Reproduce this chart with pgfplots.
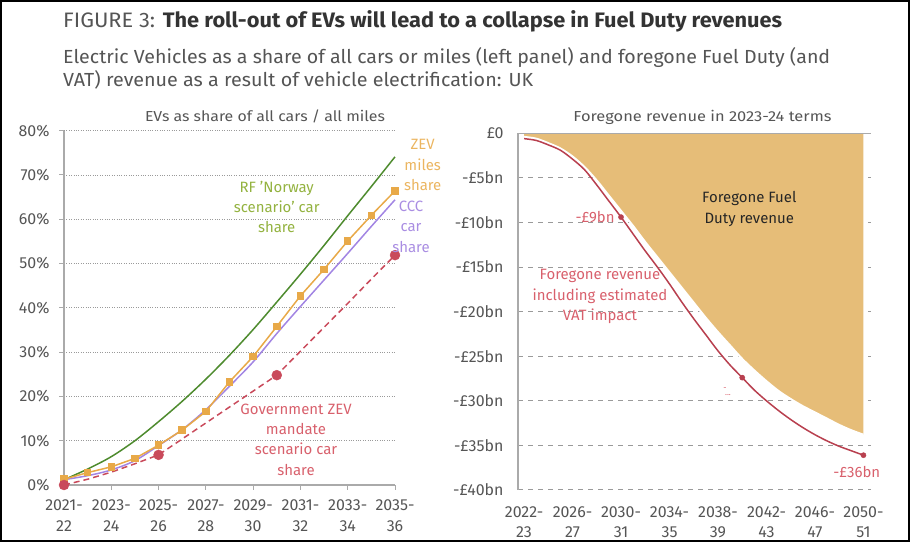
\documentclass[border=0pt]{standalone}
\usepackage{pgfplots}
\pgfplotsset{compat=1.18}
\usepackage{fontspec}
\setmainfont{Fira Sans}
\usepackage{graphicx}
\definecolor{gline}{HTML}{4E8B2E}
\definecolor{gtext}{HTML}{93B23F}
\definecolor{oline}{HTML}{E8A948}
\definecolor{otext}{HTML}{EBB560}
\definecolor{pline}{HTML}{A285E3}
\definecolor{ptext}{HTML}{A98DE2}
\definecolor{rline}{HTML}{C94A5B}
\definecolor{rtext}{HTML}{D8606C}
\definecolor{rdark}{HTML}{B8404F}
\definecolor{fillc}{HTML}{E6BD78}
\definecolor{tickc}{HTML}{555555}
\definecolor{axc}{HTML}{AAAAAA}
\definecolor{gridc}{HTML}{9A9A9A}
\begin{document}
\begin{tikzpicture}[x=1bp,y=1bp]
\path[use as bounding box] (0,0) rectangle (910,542);
\draw[black, line width=2bp] (1,1) rectangle (909,541);
% titles
\node[anchor=base west, inner sep=0] at (63,514.5) {\resizebox{719bp}{\height}{\fontsize{21}{24}\selectfont\color{tickc}FIGURE 3: \textbf{\color{black!80}The roll-out of EVs will lead to a collapse in Fuel Duty revenues}}};
\node[anchor=base west, inner sep=0] at (63,478.5) {\resizebox{767bp}{\height}{\fontsize{19}{22}\selectfont\color{tickc}Electric Vehicles as a share of all cars or miles (left panel) and foregone Fuel Duty (and}};
\node[anchor=base west, inner sep=0] at (63,455.5) {\resizebox{470bp}{\height}{\fontsize{19}{22}\selectfont\color{tickc}VAT) revenue as a result of vehicle electrification: UK}};
\node[anchor=base, inner sep=0] at (265,420) {\resizebox{240bp}{\height}{\fontsize{14.5}{17}\selectfont\color{tickc}EVs as share of all cars / all miles}};
\node[anchor=base, inner sep=0] at (702.5,420) {\resizebox{258bp}{\height}{\fontsize{14.5}{17}\selectfont\color{tickc}Foregone revenue in 2023-24 terms}};

% left panel
\begin{axis}[at={(64bp,57bp)}, anchor=south west, scale only axis, width=331bp, height=354.3bp,
  xmin=0, xmax=14, ymin=0, ymax=80, clip=false,
  axis x line*=bottom, axis y line*=left, axis line style={axc, line width=1.2bp},
  xtick={0,2,...,14},
  xticklabels={{2021-\\22},{2023-\\24},{2025-\\26},{2027-\\28},{2029-\\30},{2031-\\32},{2033-\\34},{2035-\\36}},
  ytick={0,10,...,80},
  yticklabels={0\%,10\%,20\%,30\%,40\%,50\%,60\%,70\%,80\%},
  tick style={axc, line width=1bp}, tick align=outside, major tick length=5bp,
  ymajorgrids, grid style={gridc, dotted, line width=0.8bp},
  ticklabel style={font=\fontsize{16}{21}\selectfont, text=tickc},
  xticklabel style={align=center, yshift=-6bp},
  yticklabel style={xshift=-6bp},
]
\addplot[gline, line width=1.5bp, smooth] coordinates {(0,1.2)(1,3.6)(2,6.4)(3,10.0)(4,14.3)(5,18.9)(6,23.9)(7,29.3)(8,35.1)(9,41.3)(10,47.6)(11,54.1)(12,60.8)(13,67.4)(14,74.1)};
\addplot[pline, line width=1.5bp, smooth] coordinates {(0,1.2)(1,2.1)(2,3.4)(3,5.5)(4,8.9)(5,12.5)(6,17.0)(7,22.3)(8,27.8)(9,34.2)(10,40.3)(11,46.3)(12,52.3)(13,58.4)(14,64.4)};
\addplot[oline, line width=1.5bp, mark=square*, mark size=3bp, mark options={fill=oline, draw=oline}] coordinates {(0,1.3)(1,2.8)(2,4.1)(3,6.0)(4,9.0)(5,12.4)(6,16.6)(7,23.3)(8,29.0)(9,35.8)(10,42.7)(11,48.7)(12,55.1)(13,60.9)(14,66.4)};
\addplot[rline, line width=1.5bp, dash pattern=on 6bp off 4bp] coordinates {(0,0)(1,1.3)(2,2.9)(3,4.8)(4,6.8)(5,10.4)(6,14.0)(7,17.6)(8,21.2)(9,24.8)(10,30.2)(11,35.6)(12,41.0)(13,46.5)(14,51.9)};
\addplot[only marks, mark=*, mark size=5bp, mark options={fill=rline, draw=rline}] coordinates {(0,0)(4,6.8)(9,24.8)(14,51.9)};
\end{axis}
\begin{scope}[every node/.style={align=center, inner sep=0, font=\fontsize{15}{20.5}\selectfont}]
\node[text=gtext] at (276.7,335) {RF 'Norway\\scenario' car\\share};
\node[text=otext] at (422.7,376.7) {ZEV\\miles\\share};
\node[text=ptext] at (411,315.5) {CCC\\car\\share};
\node[text=rtext] at (296,102.4) {Government ZEV\\mandate\\scenario car\\share};
\end{scope}

% right panel
\begin{axis}[at={(518bp,52bp)}, anchor=south west, scale only axis, width=352.7bp, height=356.7bp,
  xmin=2021.5, xmax=2050.6, ymin=-40, ymax=0, clip=false,
  axis x line*=bottom, axis y line*=left,
  x axis line style={draw=none}, y axis line style={axc, line width=1.2bp},
  xtick={2022,2026,...,2050},
  xticklabels={{2022-\\23},{2026-\\27},{2030-\\31},{2034-\\35},{2038-\\39},{2042-\\43},{2046-\\47},{2050-\\51}},
  ytick={-40,-35,...,0},
  yticklabels={-£40bn,-£35bn,-£30bn,-£25bn,-£20bn,-£15bn,-£10bn,-£5bn,£0},
  major tick length=0pt, tick style={draw=none},
  ymajorgrids, grid style={gridc, dash pattern=on 5bp off 5bp, line width=1bp},
  ticklabel style={font=\fontsize{16}{20}\selectfont, text=tickc},
  xticklabel style={align=center, yshift=-13bp},
  yticklabel style={xshift=-11bp},
]
\addplot[fill=fillc, draw=none] coordinates {(2022,0)(2022,-0.4)(2023,-0.6)(2024,-1.1)(2025,-1.7)(2026,-2.6)(2027,-3.8)(2028,-5.3)(2029,-7.0)(2030,-8.7)(2031,-10.4)(2032,-12.2)(2033,-13.9)(2034,-15.6)(2035,-17.3)(2036,-19.0)(2037,-20.7)(2038,-22.3)(2039,-23.8)(2040,-25.3)(2041,-26.6)(2042,-27.8)(2043,-28.9)(2044,-29.8)(2045,-30.6)(2046,-31.3)(2047,-32.0)(2048,-32.7)(2049,-33.3)(2050,-33.8)(2050,0)} -- cycle;
\addplot[white, line width=2bp, smooth] coordinates {(2022,-0.4)(2023,-0.6)(2024,-1.1)(2025,-1.7)(2026,-2.6)(2027,-3.8)(2028,-5.3)(2029,-7.0)(2030,-8.7)(2031,-10.4)(2032,-12.2)(2033,-13.9)(2034,-15.6)(2035,-17.3)(2036,-19.0)(2037,-20.7)(2038,-22.3)(2039,-23.8)(2040,-25.3)(2041,-26.6)(2042,-27.8)(2043,-28.9)(2044,-29.8)(2045,-30.6)(2046,-31.3)(2047,-32.0)(2048,-32.7)(2049,-33.3)(2050,-33.8)};
\addplot[axc, line width=1.2bp] coordinates {(2021.5,0)(2050.6,0)};
\addplot[rdark, line width=1.5bp, smooth] coordinates {(2022,-0.6)(2023,-0.8)(2024,-1.3)(2025,-1.9)(2026,-2.9)(2027,-4.1)(2028,-5.8)(2029,-7.6)(2030,-9.4)(2031,-11.3)(2032,-13.2)(2033,-15.0)(2034,-16.9)(2035,-18.9)(2036,-20.8)(2037,-22.6)(2038,-24.4)(2039,-26.0)(2040,-27.4)(2041,-28.8)(2042,-30.0)(2043,-31.1)(2044,-32.1)(2045,-33.0)(2046,-33.8)(2047,-34.5)(2048,-35.1)(2049,-35.6)(2050,-36.1)};
\addplot[only marks, mark=*, mark size=2.6bp, mark options={fill=rdark, draw=rdark}] coordinates {(2030,-9.4)(2040,-27.4)(2050,-36.1)};
\end{axis}
\begin{scope}[every node/.style={align=center, inner sep=0, font=\fontsize{15}{20.5}\selectfont}]
\node[text=black!85] at (749.3,333) {Foregone Fuel\\Duty revenue};
\node[text=rtext] at (600,245.3) {Foregone revenue\\including estimated\\VAT impact};
\node[text=rtext] at (595,324.7) {-£9bn};
\node[text=rtext] at (856.7,70.3) {-£36bn};
\node[text=rtext, font=\fontsize{8}{8}\selectfont] at (725,150) {-\\[-3bp]\hspace{6bp}...};
\end{scope}
\end{tikzpicture}
\end{document}
